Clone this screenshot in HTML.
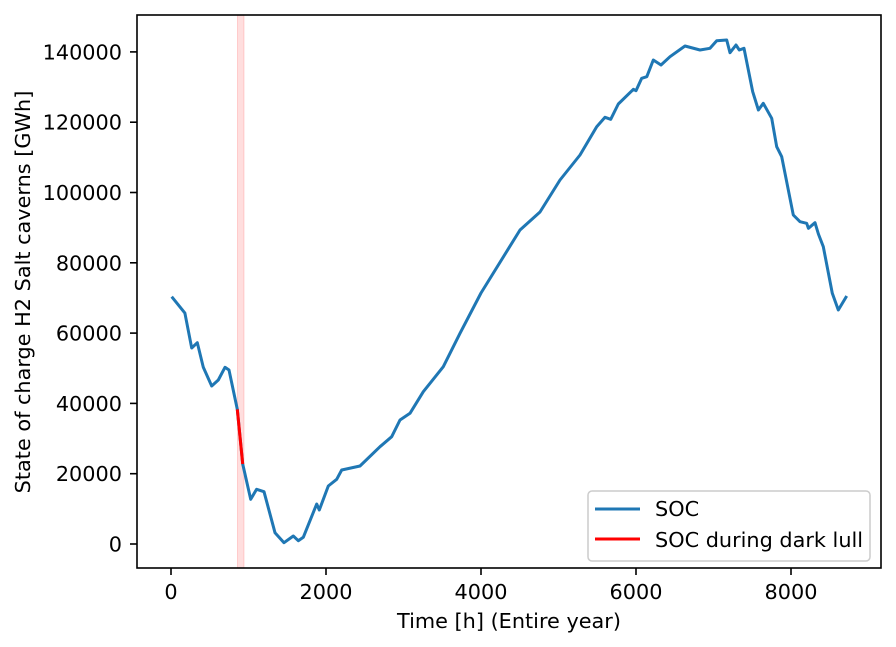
<!DOCTYPE html>
<html><head><meta charset="utf-8"><style>
body{margin:0;background:#fff;}
svg{display:block;font-family:"DejaVu Sans","Liberation Sans",sans-serif;}
</style></head><body>
<svg id="chart" width="896" height="647">
<rect x="0" y="0" width="896" height="647" fill="#fff"/>
<g id="plot"></g>
</svg>
<script>
const hours=[9,180,267,340,417,525,610,697,748,856,925,1028,1105,1200,1342,1458,1578,1643,1707,1880,1914,2030,2138,2203,2439,2697,2848,2955,3084,3256,3514,3729,4000,4503,4761,5019,5277,5493,5600,5674,5772,5966,6000,6074,6139,6223,6323,6439,6632,6826,6955,7041,7170,7213,7290,7333,7394,7506,7579,7643,7751,7816,7880,8030,8116,8203,8224,8310,8353,8417,8533,8610,8719];
const socValues=[70350,65700,55760,57270,50270,44950,46660,50270,49500,38320,22760,12720,15560,14880,3210,370,2280,940,1900,11380,9670,16500,18400,21050,22190,27680,30530,35280,37180,43330,50440,59940,71400,89330,94450,103560,110670,118720,121390,120820,125180,129370,128960,132490,132940,137700,136280,138640,141680,140540,141020,143200,143390,139780,141970,140540,141020,128680,123480,125380,121110,113040,110190,93600,91690,91240,89810,91400,88190,84580,71320,66570,70560];
const lullStart=856, lullEnd=925;
const spanStart=858, spanEnd=942;
const xTicks=[0,2000,4000,6000,8000];
const yTicks=[0,20000,40000,60000,80000,100000,120000,140000];

const L=137,R=881,T=15,B=568;
const xs=h=>171+h*0.0775;
const ys=v=>544-v*70.3/20000;
const NS="http://www.w3.org/2000/svg";
const g=document.getElementById('plot');
function mk(tag,attrs,parent){const e=document.createElementNS(NS,tag);for(const k in attrs)e.setAttribute(k,attrs[k]);(parent||g).appendChild(e);return e;}

const span=mk('rect',{x:xs(spanStart),y:T,width:xs(spanEnd)-xs(spanStart),height:B-T,fill:'#ff0000','fill-opacity':0.13,stroke:'#ff0000','stroke-opacity':0.15});



let d='';hours.forEach((h,i)=>{d+=(i?'L':'M')+xs(h).toFixed(1)+' '+ys(socValues[i]).toFixed(1);});
const line=mk('path',{d:d,fill:'none',stroke:'#1f77b4','stroke-width':3,'stroke-linejoin':'round'});



let rd='';let first=true;
hours.forEach((h,i)=>{if(h>=lullStart&&h<=lullEnd){rd+=(first?'M':'L')+xs(h).toFixed(1)+' '+ys(socValues[i]).toFixed(1);first=false;}});
const red=mk('path',{d:rd,fill:'none',stroke:'#ff0000','stroke-width':3});



const fr=mk('rect',{x:L,y:T,width:R-L,height:B-T,fill:'none',stroke:'#000','stroke-width':1.6});



xTicks.forEach(t=>{
  const x=xs(t);
  const tk=mk('line',{x1:x,x2:x,y1:B,y2:B+7,stroke:'#000','stroke-width':1.6});
  
  
  const tx=mk('text',{x:x,y:599,'text-anchor':'middle','font-size':20.8});
  tx.textContent=t;
  
  
});
yTicks.forEach(t=>{
  const y=ys(t);
  const tk=mk('line',{x1:L-7,x2:L,y1:y,y2:y,stroke:'#000','stroke-width':1.6});
  
  
  const tx=mk('text',{x:122,y:y+7.5,'text-anchor':'end','font-size':20.8});
  tx.textContent=t;
  
  
});
const xl=mk('text',{x:509,y:628,'text-anchor':'middle','font-size':20.8});
xl.textContent='Time [h] (Entire year)';


const yl=mk('text',{x:0,y:0,'text-anchor':'middle','font-size':20.8,transform:'translate(30,292) rotate(-90)'});
yl.textContent='State of charge H2 Salt caverns [GWh]';



const lg=mk('g',{});


mk('rect',{x:588,y:491,width:282,height:70,rx:4,fill:'#fff','fill-opacity':0.8,stroke:'#ccc','stroke-width':1.5},lg);
const e1=mk('g',{},lg);


mk('line',{x1:595,x2:640,y1:509,y2:509,stroke:'#1f77b4','stroke-width':3},e1);
const t1=mk('text',{x:655,y:516,'font-size':20.8},e1);t1.textContent='SOC';
const e2=mk('g',{},lg);


mk('line',{x1:595,x2:640,y1:539,y2:539,stroke:'#ff0000','stroke-width':3},e2);
const t2=mk('text',{x:655,y:547,'font-size':20.8},e2);t2.textContent='SOC during dark lull';
</script>
</body></html>
